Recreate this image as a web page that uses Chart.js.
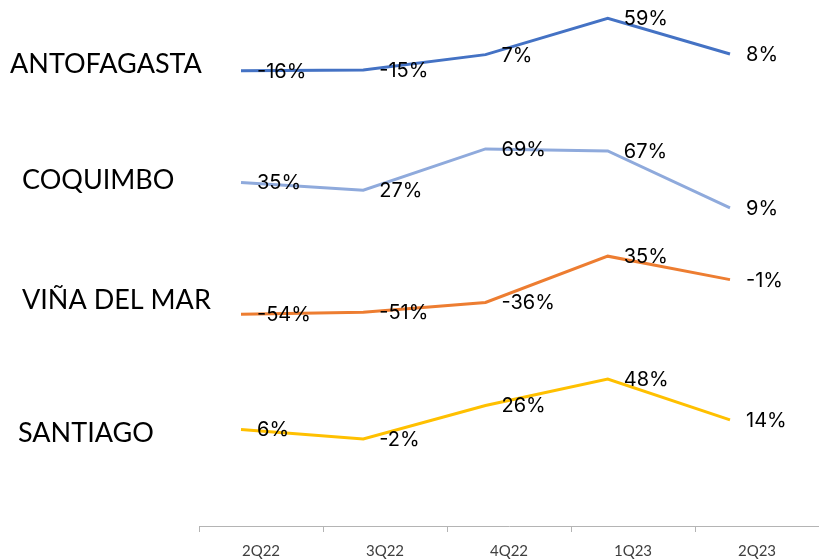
<!DOCTYPE html>
<html>
<head>
<meta charset="utf-8">
<script src="https://cdn.jsdelivr.net/npm/chart.js@4.4.0/dist/chart.umd.min.js"></script>
<style>
  html, body { margin: 0; padding: 0; background: #fff; }
  #wrap { width: 819px; height: 559px; }
</style>
</head>
<body>
<div id="wrap"><canvas id="chart" width="819" height="559"></canvas></div>
<script>
  // Year-over-year change by quarter, one line per city.
  const QUARTERS = ["2Q22", "3Q22", "4Q22", "1Q23", "2Q23"];
  const CITIES = ["ANTOFAGASTA", "COQUIMBO", "VIÑA DEL MAR", "SANTIAGO"];
  const ANTOFAGASTA = [-16, -15, 7, 59, 8];
  const COQUIMBO = [35, 27, 69, 67, 9];
  const VINA_DEL_MAR = [-54, -51, -36, 35, -1];
  const SANTIAGO = [6, -2, 26, 48, 14];

  const SERIES = [ANTOFAGASTA, COQUIMBO, VINA_DEL_MAR, SANTIAGO];
  const COLORS = ["#4472c4", "#8faadc", "#ed7d31", "#ffc000"];

  // Each city gets its own hidden y scale so the four lines sit in
  // separate horizontal bands, like the stacked slide this came from.
  const BANDS = [
    { min: -667.6, max: 85.2 },
    { min: -314.5, max: 220.5 },
    { min: -379, max: 428 },
    { min: -74.5, max: 364 },
  ];

  // City names on the left, one per band.
  const CITY_POS = [
    { x: 10, y: 64 },
    { x: 22, y: 180 },
    { x: 22, y: 300 },
    { x: 18, y: 433 },
  ];

  const pointLabels = {
    id: "pointLabels",
    afterDatasetsDraw(chart) {
      const ctx = chart.ctx;
      ctx.save();
      ctx.font = "20px Inter";
      ctx.fillStyle = "#000";
      ctx.textAlign = "left";
      ctx.textBaseline = "middle";
      chart.data.datasets.forEach((ds, i) => {
        chart.getDatasetMeta(i).data.forEach((pt, j) => {
          ctx.fillText(ds.data[j].y + "%", pt.x + 16, pt.y + 1);
        });
      });
      ctx.restore();
    },
  };

  const cityLabels = {
    id: "cityLabels",
    afterDraw(chart) {
      const ctx = chart.ctx;
      ctx.save();
      ctx.font = "27px Lato";
      ctx.fillStyle = "#000";
      ctx.textAlign = "left";
      ctx.textBaseline = "middle";
      chart.data.datasets.forEach((ds, i) => {
        ctx.fillText(ds.label, CITY_POS[i].x, CITY_POS[i].y);
      });
      ctx.restore();
    },
  };

  const scales = {
    x: {
      type: "category",
      offset: true,
      grid: {
        display: true,
        drawOnChartArea: false,
        drawTicks: true,
        tickLength: 6,
        offset: true,
        color: "#b4b4b4",
      },
      border: { display: true, color: "#b4b4b4", width: 1 },
      ticks: {
        color: "#404040",
        font: { family: "Lato", size: 15 },
        padding: 10,
        maxRotation: 0,
        autoSkip: false,
      },
      // fixed axis band under the plot
      afterFit(scale) {
        scale.height = 33;
      },
    },
    // the lines sit a little left of the category centres in the original
    xl: { type: "linear", display: false, min: -0.3436, max: 4.728 },
  };
  BANDS.forEach((b, i) => {
    scales["y" + i] = { type: "linear", display: false, min: b.min, max: b.max };
  });

  new Chart(document.getElementById("chart"), {
    type: "line",
    data: {
      labels: QUARTERS,
      datasets: SERIES.map((vals, i) => ({
        label: CITIES[i],
        data: vals.map((v, j) => ({ x: j, y: v })),
        xAxisID: "xl",
        yAxisID: "y" + i,
        borderColor: COLORS[i],
        borderWidth: 3,
        tension: 0,
        pointRadius: 0,
        fill: false,
      })),
    },
    options: {
      responsive: false,
      animation: false,
      layout: { padding: { left: 199, right: 0, top: 0, bottom: 0 } },
      scales: scales,
      plugins: { legend: { display: false }, tooltip: { enabled: false } },
    },
    plugins: [pointLabels, cityLabels],
  });
</script>
</body>
</html>
